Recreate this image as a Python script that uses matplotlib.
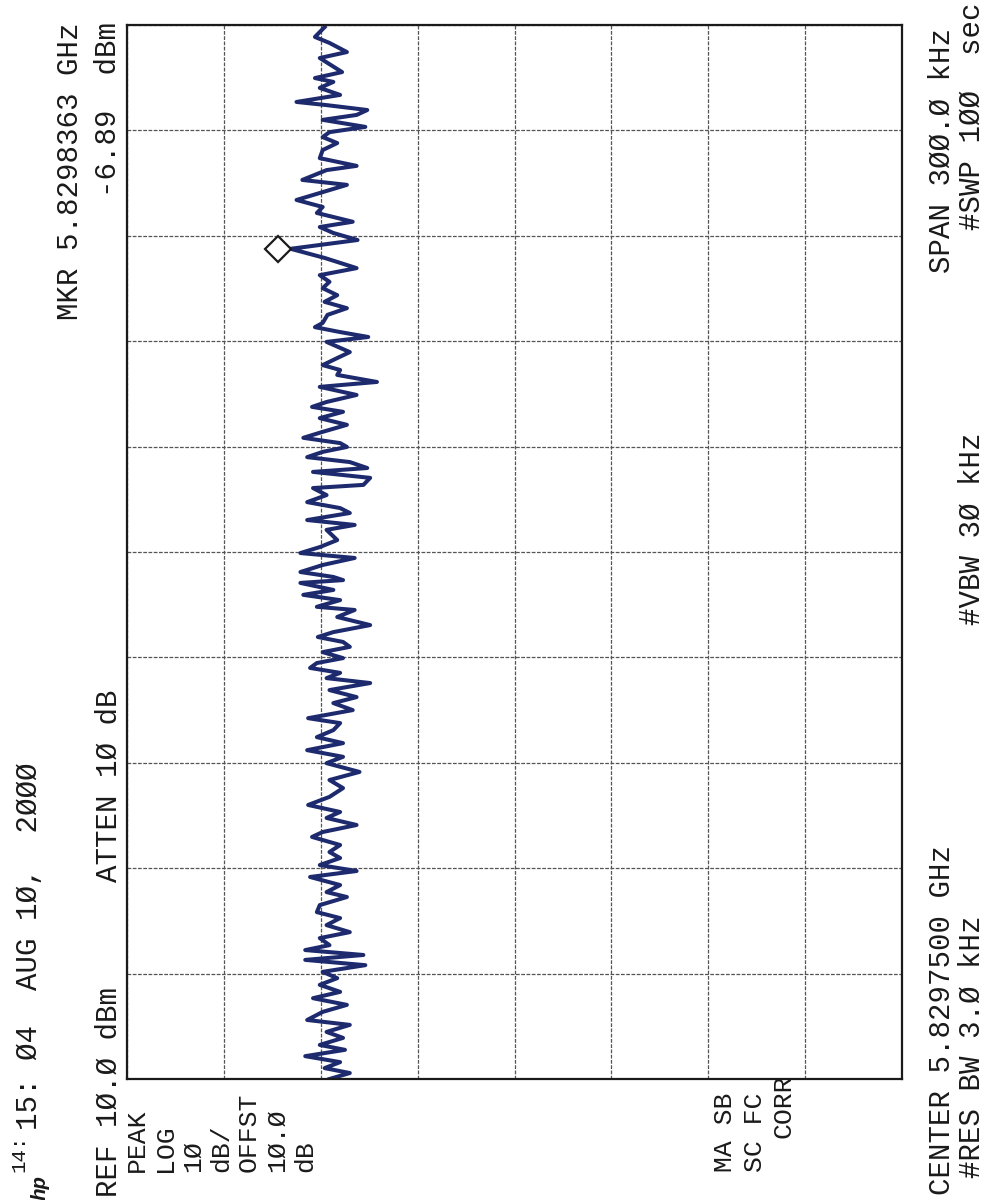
import matplotlib
matplotlib.use("Agg")
import matplotlib.pyplot as plt
import matplotlib.transforms as mtransforms

# trace: offset from center (kHz) and level (dBm)
freq_khz = [
    149.4, 146.6, 144.9, 142.3, 140.6, 139.2, 136.6, 134.9, 133.8, 132.1,
    130.1, 128.1, 127.2, 125.8, 124.4, 123.0, 121.0, 119.5, 118.1, 116.4,
    114.4, 112.1, 109.9, 108.7, 105.9, 104.5, 102.2, 100.2, 98.2, 96.5,
    94.0, 92.5, 90.8, 88.8, 86.3, 83.7, 80.8, 78.8, 76.9, 75.1,
    73.1, 71.2, 69.4, 67.5, 65.2, 64.0, 62.6, 61.2, 59.8, 56.9,
    55.2, 53.2, 51.8, 50.4, 48.4, 47.0, 44.7, 42.7, 41.3, 39.9,
    38.1, 36.2, 34.2, 32.5, 31.0, 29.9, 28.5, 27.0, 25.6, 23.9,
    22.8, 21.1, 19.1, 18.2, 16.2, 14.2, 12.5, 11.1, 9.1, 7.7,
    6.3, 3.4, 1.4, -0.3, -1.7, -3.7, -5.7, -7.1, -8.0, -8.8,
    -10.8, -12.2, -13.7, -15.6, -16.5, -18.5, -20.8, -22.8, -24.2, -25.6,
    -27.0, -28.5, -30.2, -31.6, -33.0, -34.4, -35.9, -37.3, -39.3, -41.3,
    -43.0, -45.0, -47.3, -48.7, -50.7, -52.7, -54.4, -56.4, -58.3, -60.1,
    -62.6, -64.9, -67.2, -69.7, -72.0, -74.0, -75.7, -77.7, -79.7, -81.1,
    -83.4, -85.4, -87.1, -89.1, -90.8, -92.5, -94.8, -96.8, -98.2, -100.5,
    -102.5, -104.2, -106.2, -108.2, -109.9, -111.9, -113.3, -114.7, -116.1, -117.6,
    -119.5, -121.3, -123.2, -125.2, -127.0, -128.9, -130.9, -133.2, -134.6, -136.6,
    -138.3, -140.3, -141.7, -143.5, -145.2, -146.9, -148.3, -150.0,
]
level_dbm = [
    -10.4, -9.4, -10.9, -12.7, -9.9, -10.7, -12.2, -9.4, -11.3, -9.9,
    -12.0, -7.5, -10.6, -14.8, -13.7, -10.2, -14.6, -10.9, -10.2, -11.7,
    -10.2, -9.9, -13.7, -10.6, -8.1, -12.7, -9.9, -7.5, -10.2, -9.6,
    -13.3, -9.9, -11.3, -13.8, -6.89, -10.4, -13.7, -9.9, -10.9, -10.2,
    -11.7, -10.4, -12.7, -10.7, -10.2, -9.4, -12.0, -14.9, -10.6, -13.0,
    -11.7, -10.2, -12.0, -11.7, -15.8, -9.9, -13.7, -10.6, -9.1, -12.3,
    -9.9, -12.7, -10.2, -8.2, -12.0, -12.7, -10.2, -8.6, -13.0, -14.8,
    -9.2, -15.1, -14.4, -9.2, -10.6, -8.6, -12.0, -13.0, -8.6, -13.5,
    -10.6, -11.7, -9.9, -7.9, -13.5, -10.2, -7.9, -11.3, -12.3, -7.9,
    -11.3, -8.2, -12.0, -9.6, -13.5, -11.7, -15.1, -11.3, -9.7, -12.3,
    -13.0, -10.2, -12.3, -9.6, -8.9, -12.0, -10.6, -15.1, -10.9, -13.7,
    -11.3, -13.3, -8.7, -12.0, -11.3, -9.6, -12.3, -8.6, -12.3, -10.6,
    -14.0, -10.9, -12.3, -10.9, -8.7, -12.0, -10.6, -13.7, -10.2, -9.1,
    -12.0, -10.9, -12.0, -9.9, -13.7, -8.9, -12.0, -10.6, -12.7, -9.9,
    -9.6, -12.0, -10.6, -13.0, -9.9, -10.9, -8.4, -14.4, -8.4, -14.6,
    -10.2, -11.7, -9.9, -12.0, -9.2, -12.7, -10.2, -8.6, -13.0, -10.6,
    -12.3, -9.9, -12.5, -8.4, -12.0, -10.4, -13.0, -10.9,
]

ref_dbm = 10.0
db_per_div = 10
n_vdiv = 8
span_khz = 300.0
n_hdiv = 10
mkr_khz = 86.3
mkr_dbm = -6.89

FONT = ["Liberation Mono", "DejaVu Sans Mono"]
FS = 21
INK = "#1a1a1a"

fig = plt.figure(figsize=(10, 12), dpi=100)
fig.patch.set_facecolor("white")

# the printout is turned on its side: level runs left->right, frequency bottom->top
ax = fig.add_axes([0.127, 1 - 1079 / 1200, 0.775, (1079 - 25) / 1200])
ax.set_xlim(ref_dbm, ref_dbm - n_vdiv * db_per_div)
ax.set_ylim(-span_khz / 2, span_khz / 2)
ax.set_xticks([ref_dbm - i * db_per_div for i in range(n_vdiv + 1)])
ax.set_yticks([-span_khz / 2 + i * span_khz / n_hdiv for i in range(n_hdiv + 1)])
ax.tick_params(length=0, labelbottom=False, labelleft=False)
ax.grid(True, color="#555555", lw=0.9, ls=(0, (3, 1.2)))
for sp in ax.spines.values():
    sp.set_linewidth(1.6)
    sp.set_color(INK)

ax.plot(level_dbm, freq_khz, color="#1e2a6e", lw=2.9, solid_joinstyle="round")

off = mtransforms.offset_copy(ax.transData, fig=fig, x=-13, y=0, units="dots")
ax.plot([mkr_dbm], [mkr_khz], marker="D", ms=13, mfc="white", mec=INK,
        mew=1.6, transform=off, clip_on=False)


def label(s, x, y, ha="left", size=FS, **kw):
    # x: baseline column in pixels, y: pixel row where the text starts/ends
    fig.text(x / 1000, 1 - y / 1200, s, rotation=90, rotation_mode="anchor",
             ha=ha, va="baseline", family=FONT, fontsize=size, color=INK, **kw)


label("14:", 24, 1172, size=15)
label("hp", 46, 1200, size=15, style="italic", weight="bold")
label("15: Ø4  AUG 1Ø,  2ØØØ", 37, 1130)
label("REF 1Ø.Ø dBm", 117, 1197)
label("ATTEN 1Ø dB", 117, 882)
label("MKR 5.8298363 GHz", 78, 22, ha="right")
label("-6.89  dBm", 116, 22, ha="right")

for s, x in [("PEAK", 144), ("LOG", 172), ("1Ø", 200), ("dB/", 228),
             ("OFFST", 256), ("1Ø.Ø", 284), ("dB", 312),
             ("MA SB", 732), ("SC FC", 762)]:
    label(s, x, 1172, size=19)
label("CORR", 790, 1075, ha="right", size=19)

label("CENTER 5.8297500 GHz", 950, 1195)
label("#RES BW 3.Ø kHz", 980, 1178)
label("#VBW 3Ø kHz", 980, 625)
label("SPAN 3ØØ.Ø kHz", 950, 28, ha="right")
label("#SWP 1ØØ  sec", 980, 3, ha="right")

fig.savefig("out.png", dpi=100)
